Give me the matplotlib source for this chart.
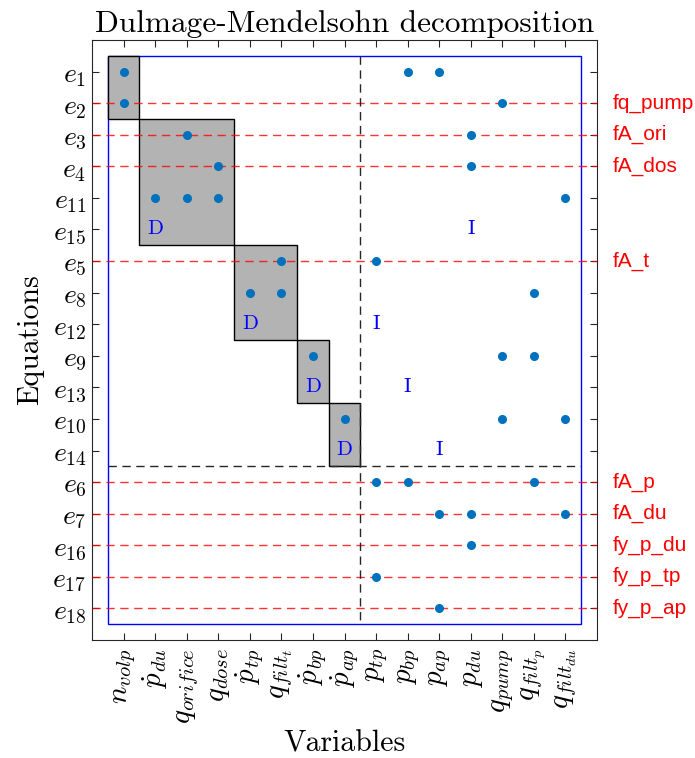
"""Dulmage-Mendelsohn decomposition of the equation/variable incidence."""
import matplotlib
matplotlib.use('Agg')
import matplotlib.pyplot as plt
from matplotlib.patches import Rectangle

plt.rcParams['mathtext.fontset'] = 'cm'
plt.rcParams['axes.unicode_minus'] = False

variables = [r'$n_{volp}$', r'$\dot{p}_{du}$', r'$q_{orifice}$', r'$q_{dose}$',
             r'$\dot{p}_{tp}$', r'$q_{filt_t}$', r'$\dot{p}_{bp}$', r'$\dot{p}_{ap}$',
             r'$p_{tp}$', r'$p_{bp}$', r'$p_{ap}$', r'$p_{du}$',
             r'$q_{pump}$', r'$q_{filt_p}$', r'$q_{filt_{du}}$']
equations = ['1', '2', '3', '4', '11', '15', '5', '8', '12', '9', '13',
             '10', '14', '6', '7', '16', '17', '18']

# non-zeros of the permuted incidence matrix (row, column), 1-based
nz_rows = [1, 1, 1, 2, 2, 3, 3, 4, 4, 5, 5, 5, 5, 7, 7, 8, 8, 8,
           10, 10, 10, 12, 12, 12, 14, 14, 14, 15, 15, 15, 16, 17, 18]
nz_cols = [1, 10, 11, 1, 13, 3, 12, 4, 12, 2, 3, 4, 15, 6, 9, 5, 6, 14,
           7, 13, 14, 8, 13, 15, 9, 10, 14, 11, 12, 15, 12, 9, 11]

# square diagonal blocks: (first col, n cols, first row, n rows)
blocks = [(1, 1, 1, 2), (2, 3, 3, 4), (5, 2, 7, 3), (7, 1, 10, 2), (8, 1, 12, 2)]
d_labels = [(2, 6), (5, 9), (7, 11), (8, 13)]
i_labels = [(12, 6), (9, 9), (10, 11), (11, 13)]

# residual rows and their names
red_rows = [2, 3, 4, 7, 14, 15, 16, 17, 18]
red_names = ['fq_pump', 'fA_ori', 'fA_dos', 'fA_t', 'fA_p', 'fA_du',
             'fy_p_du', 'fy_p_tp', 'fy_p_ap']

n_vars = len(variables)
n_eqs = len(equations)
n_square = 8      # columns in the square part
n_square_rows = 13

fig = plt.figure(figsize=(6.95, 7.58), dpi=100)
ax = fig.add_axes([0.1324, 0.1557, 0.7266, 0.7915])

ax.add_patch(Rectangle((0.5, 0.5), n_vars, n_eqs, fill=False,
                       edgecolor='blue', lw=1, zorder=1))

for c0, nc, r0, nr in blocks:
    ax.add_patch(Rectangle((c0 - 0.5, r0 - 0.5), nc, nr, facecolor=(0.7, 0.7, 0.7),
                           edgecolor='black', lw=1, zorder=2))

for r, name in zip(red_rows, red_names):
    ax.plot([0, n_vars + 1], [r, r], color='red', ls=(0, (6, 4)), lw=1,
            alpha=0.8, zorder=3)
    ax.text(n_vars + 1.5, r, name, color='red', fontsize=15,
            family='Liberation Sans', va='center', ha='left', clip_on=False)

ax.plot([n_square + 0.5] * 2, [0.5, n_eqs + 0.5], color=(0.15, 0.15, 0.15),
        ls=(0, (6, 4)), lw=1, zorder=3)
ax.plot([0.5, n_vars + 0.5], [n_square_rows + 0.5] * 2, color=(0.15, 0.15, 0.15),
        ls=(0, (6, 4)), lw=1, zorder=3)

ax.plot(nz_cols, nz_rows, 'o', color='#0072BD', ms=5.5, zorder=4)

for c, r in d_labels:
    ax.text(c, r, 'D', color='blue', fontsize=15, family='cmr10',
            ha='center', va='center', zorder=5)
for c, r in i_labels:
    ax.text(c, r, 'I', color='blue', fontsize=15, family='cmr10',
            ha='center', va='center', zorder=5)

ax.set_xlim(0, n_vars + 1)
ax.set_ylim(n_eqs + 1, 0)
ax.set_xticks(range(1, n_vars + 1))
ax.set_xticklabels(variables, rotation=90, fontsize=21)
ax.set_yticks(range(1, n_eqs + 1))
ax.set_yticklabels([rf'$e_{{{e}}}$' for e in equations], fontsize=20)
ax.tick_params(direction='in', length=5, top=True, right=True,
               color=(0.15, 0.15, 0.15), labelcolor='black')
ax.tick_params(axis='x', pad=6)
ax.tick_params(axis='y', pad=4)
for sp in ax.spines.values():
    sp.set_color((0.15, 0.15, 0.15))
    sp.set_linewidth(0.8)

ax.set_title('Dulmage-Mendelsohn decomposition', family='cmr10', fontsize=22.5, pad=6)
ax.set_xlabel('Variables', family='cmr10', fontsize=21.5, labelpad=4)
ax.set_ylabel('Equations', family='cmr10', fontsize=21.5, labelpad=6)

fig.savefig('out.png', dpi=100)
